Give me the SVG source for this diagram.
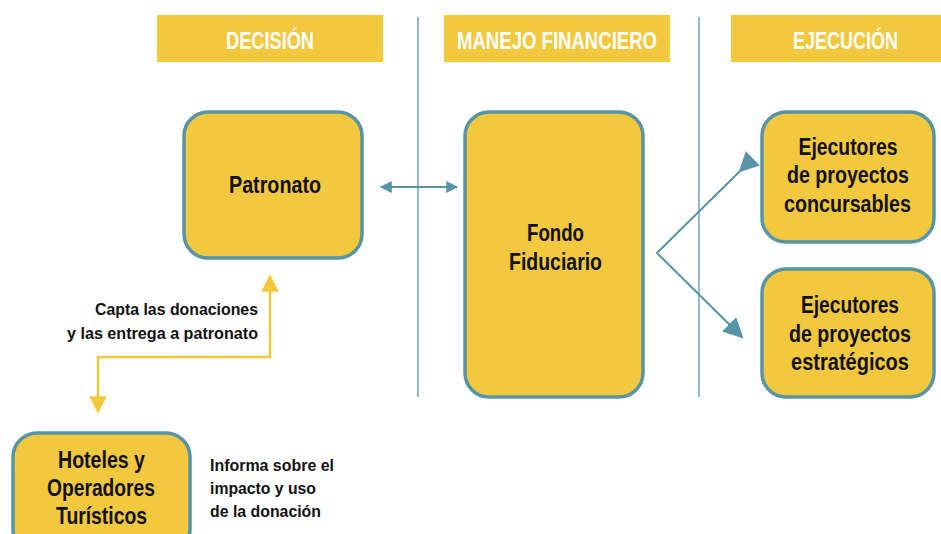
<svg xmlns="http://www.w3.org/2000/svg" width="941" height="534" viewBox="0 0 941 534">
<defs>
<style>
text{font-family:"Liberation Sans",Arial,sans-serif;font-weight:bold}
.hdr{fill:#f2c83f}
.hdrt{fill:#ffffff;font-size:23px;text-anchor:middle}
.box{fill:#f2c83f;stroke:#5694a6;stroke-width:3.5}
.bt{fill:#111111;font-size:23px;text-anchor:middle}
.lt{fill:#111111;font-size:17px}
.div{stroke:#5e97a9;stroke-width:1.3;fill:none}
.tl{stroke:#5694a6;stroke-width:2;fill:none}
.yl{stroke:#f2c83f;stroke-width:2.5;fill:none}
</style>
<marker id="ta" viewBox="0 0 10 10" refX="9" refY="5" markerWidth="6.5" markerHeight="6" orient="auto-start-reverse" markerUnits="strokeWidth">
<path d="M0,0 L10,5 L0,10 Z" fill="#5694a6"/>
</marker>
<marker id="ta2" viewBox="0 0 10 10" refX="9" refY="5" markerWidth="10.5" markerHeight="10" orient="auto" markerUnits="strokeWidth">
<path d="M0,0 L10,5 L0,10 Z" fill="#5694a6"/>
</marker>
<marker id="ya" viewBox="0 0 10 10" refX="9" refY="5" markerWidth="7" markerHeight="7.5" orient="auto-start-reverse" markerUnits="strokeWidth">
<path d="M0,0 L10,5 L0,10 Z" fill="#f2c83f"/>
</marker>
</defs>
<g id="headers">
<rect class="hdr" x="157" y="15" width="226" height="47"/>
<text class="hdrt" x="270" y="49" textLength="88" lengthAdjust="spacingAndGlyphs">DECISIÓN</text>
<rect class="hdr" x="444" y="15" width="226" height="47"/>
<text class="hdrt" x="557" y="49" textLength="200" lengthAdjust="spacingAndGlyphs">MANEJO FINANCIERO</text>
<rect class="hdr" x="731" y="15" width="210" height="47"/>
<text class="hdrt" x="845.5" y="49" textLength="105" lengthAdjust="spacingAndGlyphs">EJECUCIÓN</text>
</g>
<g id="dividers">
<line class="div" x1="418" y1="17" x2="418" y2="397"/>
<line class="div" x1="699" y1="17" x2="699" y2="397"/>
</g>
<g id="connectors">
<line class="tl" x1="381" y1="187" x2="457" y2="187" marker-start="url(#ta)" marker-end="url(#ta)"/>
<polyline class="tl" points="740,171 657,253 742,337" marker-start="url(#ta2)" marker-end="url(#ta2)"/>
<polyline class="yl" points="270,276 270,357 98,357 98,412" marker-start="url(#ya)" marker-end="url(#ya)"/>
</g>
<g id="patronato">
<rect class="box" x="184" y="112" width="178" height="146" rx="24"/>
<text class="bt" x="275" y="193" textLength="92" lengthAdjust="spacingAndGlyphs">Patronato</text>
</g>
<g id="fondo">
<rect class="box" x="465" y="112" width="178" height="285" rx="24"/>
<text class="bt" x="555.5" y="241" textLength="57" lengthAdjust="spacingAndGlyphs">Fondo</text>
<text class="bt" x="555.5" y="270" textLength="93" lengthAdjust="spacingAndGlyphs">Fiduciario</text>
</g>
<g id="ejec-concursables">
<rect class="box" x="762" y="112" width="172" height="130" rx="24"/>
<text class="bt" x="848" y="155" textLength="99" lengthAdjust="spacingAndGlyphs">Ejecutores</text>
<text class="bt" x="848" y="183" textLength="122" lengthAdjust="spacingAndGlyphs">de proyectos</text>
<text class="bt" x="847.5" y="212" textLength="127" lengthAdjust="spacingAndGlyphs">concursables</text>
</g>
<g id="ejec-estrategicos">
<rect class="box" x="762" y="269" width="172" height="128" rx="24"/>
<text class="bt" x="850" y="313" textLength="98" lengthAdjust="spacingAndGlyphs">Ejecutores</text>
<text class="bt" x="850" y="342" textLength="122" lengthAdjust="spacingAndGlyphs">de proyectos</text>
<text class="bt" x="850" y="370" textLength="118" lengthAdjust="spacingAndGlyphs">estratégicos</text>
</g>
<g id="hoteles">
<rect class="box" x="13" y="433" width="177" height="120" rx="24"/>
<text class="bt" x="101.5" y="468" textLength="87" lengthAdjust="spacingAndGlyphs">Hoteles y</text>
<text class="bt" x="101" y="496" textLength="108" lengthAdjust="spacingAndGlyphs">Operadores</text>
<text class="bt" x="101.5" y="524" textLength="91" lengthAdjust="spacingAndGlyphs">Turísticos</text>
</g>
<g id="labels">
<text class="lt" x="95" y="315" textLength="163" lengthAdjust="spacingAndGlyphs">Capta las donaciones</text>
<text class="lt" x="67" y="339" textLength="191" lengthAdjust="spacingAndGlyphs">y las entrega a patronato</text>
<text class="lt" x="210" y="471" textLength="124" lengthAdjust="spacingAndGlyphs">Informa sobre el</text>
<text class="lt" x="210" y="494" textLength="106" lengthAdjust="spacingAndGlyphs">impacto y uso</text>
<text class="lt" x="210" y="517" textLength="111" lengthAdjust="spacingAndGlyphs">de la donación</text>
</g>
</svg>
